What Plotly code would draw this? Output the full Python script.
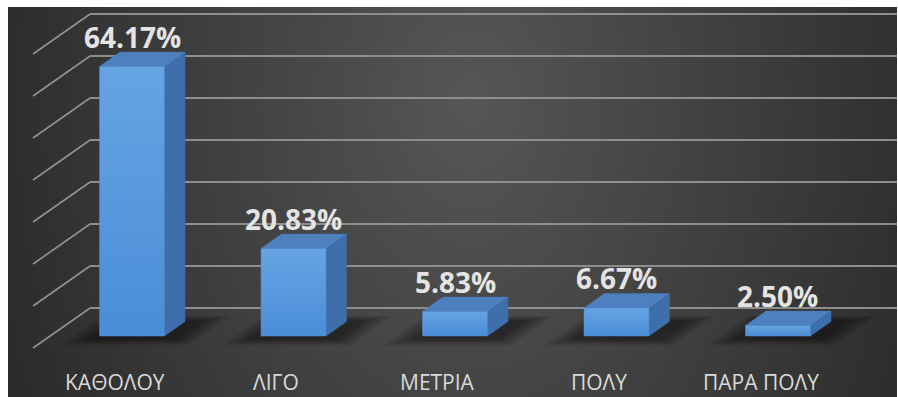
import numpy as np
import plotly.graph_objects as go

# Survey answers and their shares (%)
categories = ["ΚΑΘΟΛΟΥ", "ΛΙΓΟ", "ΜΕΤΡΙΑ", "ΠΟΛΥ", "ΠΑΡΑ ΠΟΛΥ"]
shares = [64.17, 20.83, 5.83, 6.67, 2.50]
grid_values = [0, 10, 20, 30, 40, 50, 60, 70]

# Oblique projection: depth d moves points right/up on the data axes
DX = 0.353      # x shift per unit of depth (category units)
DY = 9.524      # y shift per unit of depth (percent units)
BAR_W = 0.4025  # bar width in category units
BAR_D = 0.36    # bar depth
WALL_D = 0.7    # back wall depth
FLOOR_D = -0.3  # front edge of the floor
LEFT_I = -0.507 # left side of the floor


def proj(i, v, d):
    return i + d * DX, v + d * DY


def poly(points):
    xs, ys = [], []
    for (i, v, d) in points:
        x, y = proj(i, v, d)
        xs.append(x)
        ys.append(y)
    xs.append(xs[0])
    ys.append(ys[0])
    return xs, ys


fig = go.Figure()

# Dark radial background (drawn on the base axes)
nx, ny = 120, 60
gx = np.linspace(0, 1, nx)
gy = np.linspace(0, 1, ny)
PX = 8 + gx[None, :] * 889
PY = 397 - gy[:, None] * 390
r = np.sqrt(((PX - 470) / 480) ** 2 + ((PY - 100) / 700) ** 2)
shade = np.clip(86 - 42 * r, 43, 90)
fig.add_trace(go.Heatmap(
    x=gx, y=gy, z=shade, zmin=0, zmax=255, zsmooth="best",
    colorscale=[[0, "rgb(0,0,0)"], [1, "rgb(255,255,255)"]],
    showscale=False, hoverinfo="skip", xaxis="x", yaxis="y",
))

# Back-wall gridlines and the slanted lines on the side wall
hx, hy, sx, sy = [], [], [], []
for g in grid_values:
    x0, y0 = proj(LEFT_I, g, WALL_D)
    hx += [x0, 6, None]
    hy += [y0, y0, None]
    xa, ya = proj(LEFT_I, g, FLOOR_D)
    sx += [xa, x0, None]
    sy += [ya, y0, None]
fig.add_trace(go.Scatter(x=hx, y=hy, mode="lines", xaxis="x2", yaxis="y2",
                         line=dict(color="#8e8e8e", width=2), hoverinfo="skip"))
fig.add_trace(go.Scatter(x=sx, y=sy, mode="lines", xaxis="x2", yaxis="y2",
                         line=dict(color="#929292", width=1.6), hoverinfo="skip"))

# Soft shadows on the floor under each bar
for k in range(6, -1, -1):
    op = 0.07
    for i in range(len(shares)):
        e = 0.022 * k
        xs, ys = poly([
            (i - BAR_W / 2 - 0.03 - e, 0, -0.08 - 0.025 * k),
            (i + BAR_W / 2 + 0.10 + e, 0, -0.08 - 0.025 * k),
            (i + BAR_W / 2 + 0.10 + e, 0, BAR_D + 0.02 + 0.02 * k),
            (i - BAR_W / 2 - 0.03 - e, 0, BAR_D + 0.02 + 0.02 * k),
        ])
        fig.add_trace(go.Scatter(x=xs, y=ys, mode="lines", fill="toself",
                                 fillcolor=f"rgba(0,0,0,{op})", line=dict(width=0),
                                 xaxis="x2", yaxis="y2", hoverinfo="skip"))

# 3D bars: side, top and front faces
for i, v in enumerate(shares):
    l, rr = i - BAR_W / 2, i + BAR_W / 2
    xs, ys = poly([(rr, 0, 0), (rr, v, 0), (rr, v, BAR_D), (rr, 0, BAR_D)])
    fig.add_trace(go.Scatter(x=xs, y=ys, mode="lines", fill="toself",
                             fillcolor="#3e6fab", line=dict(color="#3a68a0", width=0.5),
                             xaxis="x2", yaxis="y2", hoverinfo="skip"))
    xs, ys = poly([(l, v, 0), (rr, v, 0), (rr, v, BAR_D), (l, v, BAR_D)])
    fig.add_trace(go.Scatter(x=xs, y=ys, mode="lines", fill="toself",
                             fillcolor="#4e7fbe", line=dict(color="#4a79b5", width=0.5),
                             xaxis="x2", yaxis="y2", hoverinfo="skip"))
    xs, ys = poly([(l, 0, 0), (rr, 0, 0), (rr, v, 0), (l, v, 0)])
    fig.add_trace(go.Scatter(x=xs, y=ys, mode="lines", fill="toself",
                             fillgradient=dict(type="vertical", start=0, stop=v,
                                               colorscale=[[0, "#4a8dd8"], [1, "#66a4e2"]]),
                             line=dict(color="#4f8fd6", width=0.5),
                             xaxis="x2", yaxis="y2", hoverinfo="skip"))

annotations = []
for i, v in enumerate(shares):
    annotations.append(dict(
        x=i, y=v + 7.1, xref="x2", yref="y2", text=f"<b>{v:.2f}%</b>",
        showarrow=False, xanchor="center", yanchor="middle",
        font=dict(family="Open Sans", size=28, color="#e4e4e4"),
    ))
    cx, _ = proj(i, 0, FLOOR_D)
    annotations.append(dict(
        x=cx, y=-10.95, xref="x2", yref="y2", text=categories[i],
        showarrow=False, xanchor="center", yanchor="middle",
        font=dict(family="Open Sans", size=21, color="#d9d9d9"),
    ))

hidden = dict(visible=False, showgrid=False, zeroline=False, fixedrange=True)
fig.update_layout(
    width=898, height=397,
    margin=dict(l=8, r=1, t=7, b=0),
    paper_bgcolor="white", plot_bgcolor="#3a3a3a",
    showlegend=False,
    xaxis=dict(range=[0, 1], **hidden),
    yaxis=dict(range=[0, 1], **hidden),
    xaxis2=dict(range=[-0.768, 4.737], overlaying="x", **hidden),
    yaxis2=dict(range=[-14.52, 78.33], overlaying="y", **hidden),
    annotations=annotations,
)

fig.write_html("out.html")
